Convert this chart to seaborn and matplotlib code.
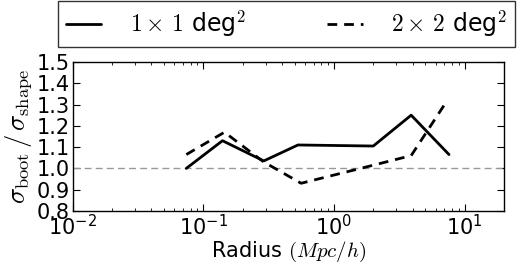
import numpy as np
import pandas as pd
import matplotlib
matplotlib.use("Agg")
import matplotlib.pyplot as plt
import seaborn as sns

# data
radius_1x1 = [0.074, 0.14, 0.29, 0.53, 2.0, 3.9, 7.6]
ratio_1x1 = [1.00, 1.13, 1.035, 1.11, 1.105, 1.25, 1.065]
radius_2x2 = [0.074, 0.145, 0.29, 0.56, 2.0, 3.9, 7.2]
ratio_2x2 = [1.065, 1.17, 1.03, 0.93, 1.015, 1.06, 1.31]
label_1x1 = r"$1\times\,1$ deg$^2$"
label_2x2 = r"$2\times\,2$ deg$^2$"
yticks = [0.8, 0.9, 1.0, 1.1, 1.2, 1.3, 1.4, 1.5]

sns.set_style("ticks")
plt.rcParams.update({
    "font.family": ["DejaVu Sans"],
    "mathtext.fontset": "cm",
    "xtick.direction": "in",
    "ytick.direction": "in",
    "xtick.top": True,
    "ytick.right": True,
    "axes.edgecolor": "black",
    "axes.linewidth": 1.0,
    "text.color": "black",
    "axes.labelcolor": "black",
    "xtick.color": "black",
    "ytick.color": "black",
})

df1 = pd.DataFrame({"r": radius_1x1, "v": ratio_1x1})
df2 = pd.DataFrame({"r": radius_2x2, "v": ratio_2x2})

fig = plt.figure(figsize=(5.2, 2.66), dpi=100)
ax = fig.add_axes([0.140, 0.207, 0.829, 0.560])

ax.axhline(1.0, color="#999999", lw=1.0, ls=(0, (5, 3)), zorder=1)
sns.lineplot(data=df1, x="r", y="v", ax=ax, color="black", lw=2.0,
             label=label_1x1, sort=False)
sns.lineplot(data=df2, x="r", y="v", ax=ax, color="black", lw=2.0,
             label=label_2x2, sort=False, linestyle=(0, (3.5, 2.5)))

ax.set_xscale("log")
ax.set_xlim(0.01, 20)
ax.set_ylim(0.8, 1.5)
ax.set_yticks(yticks)
ax.tick_params(axis="both", which="major", labelsize=15, length=5, width=0.8, pad=2)
ax.tick_params(axis="both", which="minor", length=2.5, width=0.6)
ax.set_xlabel(r"Radius $(Mpc/h)$", fontsize=15, labelpad=1)
ax.set_ylabel(r"$\sigma_{\rm boot}\,/\,\sigma_{\rm shape}$", fontsize=19, labelpad=2)

h, l = ax.get_legend_handles_labels()
ax.legend_.remove()
leg = fig.legend(h, l, loc="lower left", bbox_to_anchor=(0.1115, 0.823, 0.879, 0.177),
                 mode="expand", ncol=2, fontsize=17, frameon=True, fancybox=False,
                 edgecolor="black", handlelength=1.5, handletextpad=1.2,
                 borderaxespad=0.0, borderpad=0.33)
leg.get_frame().set_linewidth(1.0)

fig.savefig("out.png", dpi=100)
